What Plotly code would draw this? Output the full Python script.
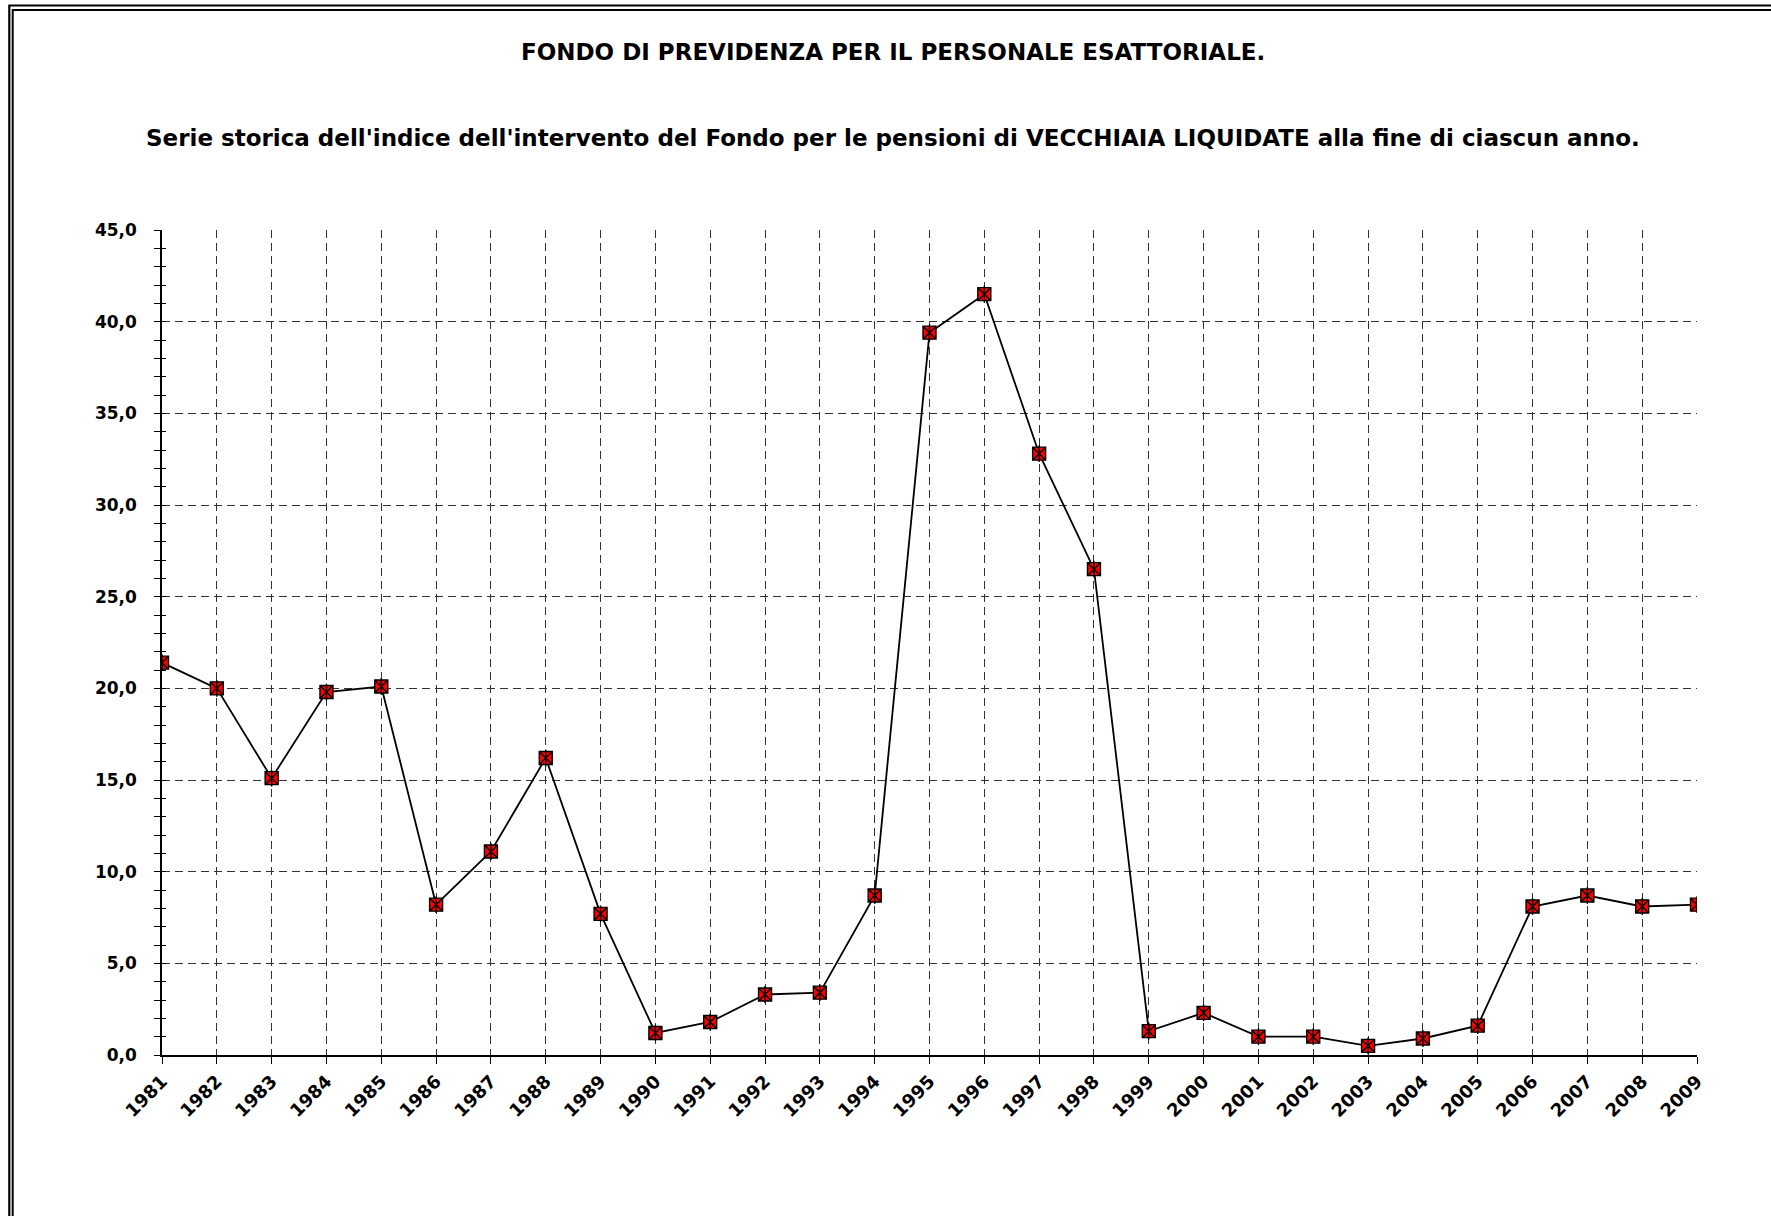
import plotly.graph_objects as go

# ---- data ----
years = [1981, 1982, 1983, 1984, 1985, 1986, 1987, 1988, 1989, 1990,
         1991, 1992, 1993, 1994, 1995, 1996, 1997, 1998, 1999, 2000,
         2001, 2002, 2003, 2004, 2005, 2006, 2007, 2008, 2009]
values = [21.4, 20.0, 15.1, 19.8, 20.1, 8.2, 11.1, 16.2, 7.7, 1.2,
          1.8, 3.3, 3.4, 8.7, 39.4, 41.5, 32.8, 26.5, 1.3, 2.3,
          1.0, 1.0, 0.5, 0.9, 1.6, 8.1, 8.7, 8.1, 8.2]
y_tick_values = [0, 5, 10, 15, 20, 25, 30, 35, 40, 45]
y_tick_labels = ["0,0", "5,0", "10,0", "15,0", "20,0", "25,0", "30,0", "35,0", "40,0", "45,0"]
x_tick_labels = [str(y) for y in years]

title_line1 = "FONDO DI PREVIDENZA PER IL PERSONALE ESATTORIALE."
title_line2 = ("Serie storica dell'indice dell'intervento del Fondo per le pensioni di "
               "VECCHIAIA LIQUIDATE alla fine di ciascun anno.")

# ---- layout geometry (pixels) ----
W, H = 1771, 1216
ML = 162
MT = 230
MR = W - 1697
MB = H - 1055
PW = W - ML - MR
PH = H - MT - MB


def px_x(sx):
    return (sx - ML) / PW


def px_y(sy):
    return (H - MB - sy) / PH


FONT = "DejaVu Sans"

fig = go.Figure()

fig.add_trace(go.Scatter(
    x=years, y=values, mode="lines+markers",
    line=dict(color="black", width=1.8),
    marker=dict(symbol="square-x", size=13, color="#ff0000",
                line=dict(color="black", width=1.4)),
    showlegend=False, hoverinfo="x+y",
))
fig.add_trace(go.Scatter(
    x=years, y=values, mode="markers",
    marker=dict(symbol="line-ns-open", size=12, color="black",
                line=dict(color="black", width=1.4)),
    showlegend=False, hoverinfo="skip",
))
# invisible trace so the overlay axis (inner ticks) is drawn
fig.add_trace(go.Scatter(
    x=years, y=values, yaxis="y2", mode="lines",
    line=dict(width=0), opacity=0, showlegend=False, hoverinfo="skip",
))

fig.update_layout(
    width=W, height=H,
    margin=dict(l=ML, r=MR, t=MT, b=MB, autoexpand=False),
    paper_bgcolor="white", plot_bgcolor="white",
    font=dict(family=FONT, color="black"),
    showlegend=False,
    xaxis=dict(
        range=[years[0], years[-1]],
        tickmode="array", tickvals=years, ticktext=x_tick_labels,
        tickangle=-45,
        tickfont=dict(family=FONT, size=18, weight="bold", color="black"),
        ticks="outside", ticklen=7, tickcolor="black", tickwidth=1,
        showgrid=True, gridcolor="#333333", griddash="8px,5px", gridwidth=1,
        showline=True, linecolor="black", linewidth=1.5,
        zeroline=False, fixedrange=True,
    ),
    yaxis=dict(
        range=[0, 45],
        tickmode="array", tickvals=y_tick_values, ticktext=y_tick_labels,
        tickfont=dict(family=FONT, size=17, weight="bold", color="black"),
        ticks="outside", ticklen=6, tickcolor="black", tickwidth=1,
        minor=dict(dtick=1, ticks="outside", ticklen=6, tickcolor="black", showgrid=False),
        ticklabelstandoff=14,
        showgrid=True, gridcolor="#333333", griddash="8px,5px", gridwidth=1,
        showline=True, linecolor="black", linewidth=1.5,
        zeroline=False, fixedrange=True,
    ),
    yaxis2=dict(
        overlaying="y", anchor="x", side="left",
        range=[0, 45],
        tickmode="array", tickvals=y_tick_values,
        showticklabels=False,
        ticks="inside", ticklen=4, tickcolor="black", tickwidth=1,
        minor=dict(dtick=1, ticks="inside", ticklen=4, tickcolor="black", showgrid=False),
        showgrid=False, showline=False, zeroline=False, fixedrange=True,
    ),
)

# titles
fig.add_annotation(text="<b>" + title_line1 + "</b>", xref="paper", yref="paper",
                   x=px_x(893), y=px_y(52), showarrow=False,
                   xanchor="center", yanchor="middle",
                   font=dict(family=FONT, size=23, color="black"))
fig.add_annotation(text="<b>" + title_line2 + "</b>", xref="paper", yref="paper",
                   x=px_x(893), y=px_y(138), showarrow=False,
                   xanchor="center", yanchor="middle",
                   font=dict(family=FONT, size=23, color="black"))

# double frame (continues past the right and bottom edges of the picture)
for x0, y0, w in [(9.3, 5.5, 2.2), (12.7, 10.0, 2.0)]:
    fig.add_shape(type="rect", xref="paper", yref="paper",
                  x0=px_x(x0), x1=px_x(W + 40), y0=px_y(y0), y1=px_y(H + 40),
                  line=dict(color="black", width=w), fillcolor="rgba(0,0,0,0)",
                  layer="above")

fig.write_html(
    "out.html",
    config={"displayModeBar": False},
    post_script="document.body.style.margin='0';document.body.style.overflow='hidden';",
)
